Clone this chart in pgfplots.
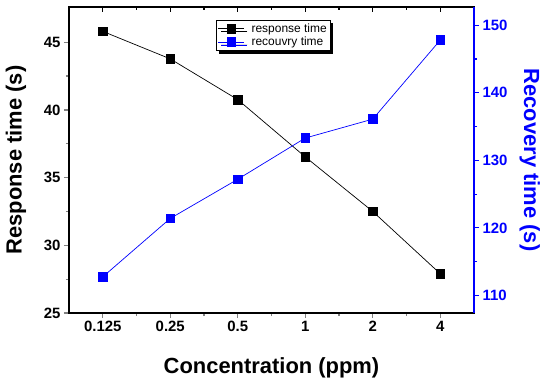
\documentclass[border=0pt]{standalone}
\usepackage{pgfplots}
\pgfplotsset{compat=1.18}
\usepackage{fontspec}
\setmainfont{Liberation Sans}
\usetikzlibrary{shadows}
\definecolor{pblue}{RGB}{0,0,255}
\begin{document}
\begin{tikzpicture}
\pgfplotsset{
  base/.style={scale only axis, width=405bp, height=306bp, at={(0,0)}, anchor=south west,
    xmin=-0.5, xmax=5.5, xtick={0,...,5}, minor x tick num=1,
    /pgf/number format/assume math mode=true,
    tick label style={font=\fontsize{15}{17}\selectfont\bfseries},
    label style={font=\fontsize{22}{26}\selectfont\bfseries},
    major tick length=5bp, minor tick length=3bp,
    every tick/.append style={line width=1.2bp},
    axis line style={line width=1.6bp}},
}
\path[use as bounding box] (-69bp,-73bp) rectangle (481bp,313bp);
\begin{axis}[base, ymin=25, ymax=47.6, ytick={25,30,...,45}, minor y tick num=1,
  xtick pos=bottom, ytick pos=left, tick align=outside,
  xticklabels={0.125,0.25,0.5,1,2,4},
  xlabel={Concentration (ppm)}, ylabel={Response time (s)},
  xlabel style={at={(axis description cs:0.5,-0.18)}, anchor=center},
  ylabel style={at={(axis description cs:-0.131,0.5)}, anchor=center}]
\addplot[black, line width=0.7bp, mark=square*, mark size=4.3bp, mark options={solid}]
  coordinates {(0,45.8)(1,43.77)(2,40.76)(3,36.53)(4,32.5)(5,27.9)};
\end{axis}
\begin{axis}[base, ymin=107.4, ymax=152.7, ytick={110,120,...,150}, minor y tick num=1,
  axis y line*=right, axis x line=none, tick align=outside,
  y axis line style={pblue, line width=1.6bp, -}, ytick style={pblue},
  yticklabel style={pblue},
  ylabel={Recovery time (s)},
  ylabel style={pblue, at={(axis description cs:1.138,0.5)}, anchor=center, rotate=-180},
  legend style={at={(axis description cs:0.363,0.958)}, anchor=north west,
    font=\fontsize{12}{13}\selectfont, draw=black, line width=0.8bp,
    inner sep=1.5bp, row sep=-1bp,
    /tikz/every odd column/.append style={column sep=5bp},
    general shadow={fill=black, shadow xshift=3bp, shadow yshift=-3bp}},
  legend cell align=left,
  legend image code/.code={\draw[mark repeat=2,mark phase=2] plot coordinates {(0bp,0bp)(13bp,0bp)(26bp,0bp)};}]
\addlegendimage{black, line width=0.7bp, mark=square*, mark size=4.3bp}
\addlegendentry{response time}
\addplot[pblue, line width=0.7bp, mark=square*, mark size=4.3bp, mark options={solid}]
  coordinates {(0,112.75)(1,121.4)(2,127.2)(3,133.3)(4,136.1)(5,147.8)};
\addlegendentry{recouvry time}
\end{axis}
% top ticks inward
\begin{axis}[base, ymin=25, ymax=47.6, hide y axis, axis x line*=top,
  x axis line style={draw=none}, xtick align=inside, xticklabel=\empty,
  major tick length=5.5bp, minor tick length=3.5bp,
  xtick style={draw=black, line width=1.2bp}]
\end{axis}
\end{tikzpicture}
\end{document}
